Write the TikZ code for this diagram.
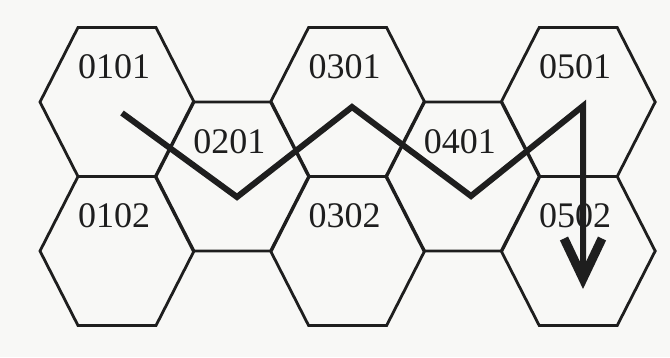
\documentclass[tikz,border=0pt]{standalone}
\usepackage{fontspec}
\setmainfont{Liberation Serif}
\usetikzlibrary{arrows.meta}
\definecolor{ink}{RGB}{30,30,30}
\definecolor{paper}{RGB}{248,248,246}
% hex cell: half width, half edge, half height
\newcommand{\hexw}{77}
\newcommand{\hexe}{39}
\newcommand{\hexh}{74.5}
\newcommand{\hexcell}[3]{%
  \draw[hexline] (#1+\hexw,#2) -- (#1+\hexe,#2+\hexh) -- (#1-\hexe,#2+\hexh)
    -- (#1-\hexw,#2) -- (#1-\hexe,#2-\hexh) -- (#1+\hexe,#2-\hexh) -- cycle;
  \node[hexlabel] (h#3) at (#1-3,#2-35) {#3};}
\begin{document}
\begin{tikzpicture}[x=1pt,y=-1pt,
  hexline/.style={draw=ink,line width=2.8pt,line join=miter},
  hexlabel/.style={font=\fontsize{36}{36}\selectfont,text=ink,inner sep=0pt},
  route/.style={draw=ink,line width=6pt,line join=miter,
    -{Straight Barb[length=40pt,width=38pt,line width=9pt]}}]
\fill[paper] (0,0) rectangle (670,357);
\useasboundingbox (0,0) rectangle (670,357);
% column x = 117 + 115.3(c-1); odd columns at rows 102/251, even at 176.5
\hexcell{117}{102}{0101}
\hexcell{117}{251}{0102}
\hexcell{232.3}{176.5}{0201}
\hexcell{347.6}{102}{0301}
\hexcell{347.6}{251}{0302}
\hexcell{462.9}{176.5}{0401}
\hexcell{578.2}{102}{0501}
\hexcell{578.2}{251}{0502}
% route across the grid
\coordinate (r1) at (122,113);
\coordinate (r2) at (237,197);
\coordinate (r3) at (352,107);
\coordinate (r4) at (471,196);
\coordinate (r5) at (583,106);
\coordinate (r6) at (583,289);
\draw[route] (r1) -- (r2) -- (r3) -- (r4) -- (r5) -- (r6);
\end{tikzpicture}
\end{document}
